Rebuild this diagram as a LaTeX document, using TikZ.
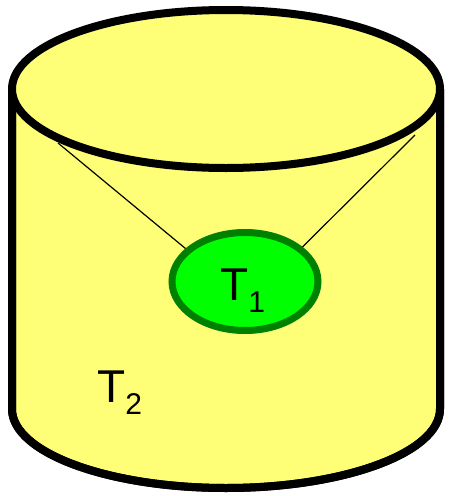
\documentclass[tikz,border=0pt]{standalone}
\usepackage{fontspec}
\setmainfont{Liberation Sans}
\usetikzlibrary{shapes.geometric}
\definecolor{cylfill}{HTML}{FFFF77}
\definecolor{greenfill}{HTML}{00FF00}
\definecolor{greenline}{HTML}{008000}
\newcommand{\tsub}[1]{T\raisebox{-12pt}{\fontsize{30}{30}\selectfont #1}}
\begin{document}
\begin{tikzpicture}[x=1pt,y=-1pt,
  cyl/.style={line width=8pt, line join=round, draw=black, fill=cylfill},
  lbl/.style={font=\fontsize{46}{46}\selectfont, inner sep=0pt, anchor=base west},
  link/.style={line width=1.2pt, draw=black}]
\useasboundingbox (0,0) rectangle (448,496);
% body
\path[cyl] (12,89) -- (12,409) arc[start angle=180, end angle=360, x radius=214, y radius=-79] -- (440,89) -- cycle;
\draw[line width=8pt, line join=round] (12,89) -- (12,409) arc[start angle=180, end angle=360, x radius=214, y radius=-79] -- (440,89);
% top
\draw[cyl] (226,89) ellipse[x radius=214, y radius=79];
\coordinate (lt) at (58,143);
\coordinate (rt) at (415,135);
\node[ellipse, draw=greenline, fill=greenfill, line width=7pt, minimum width=146pt, minimum height=98pt, inner sep=0pt] (t1) at (245,281.5) {};
\node[lbl] (t1label) at (220,300) {\tsub{1}};
\node[lbl] (t2label) at (97,402) {\tsub{2}};
\draw[link] (lt) -- (t1.151);
\draw[link] (rt) -- (t1.31);
\end{tikzpicture}
\end{document}
